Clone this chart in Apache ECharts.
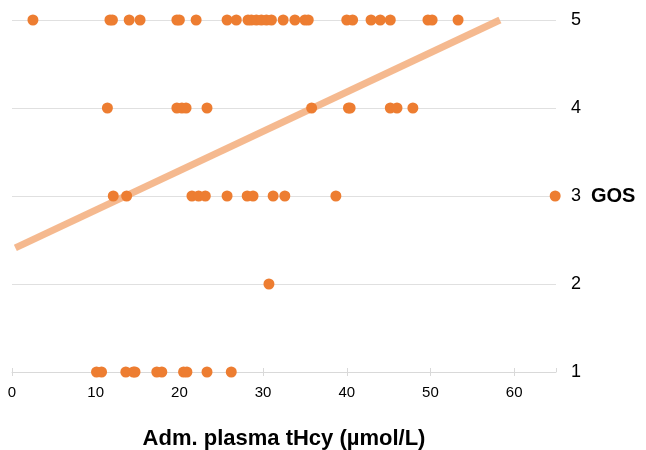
<!DOCTYPE html>
<html>
<head>
<meta charset="utf-8">
<script src="https://cdn.jsdelivr.net/npm/echarts@6/dist/echarts.min.js"></script>
<style>
  html, body { margin: 0; padding: 0; background: #fff; }
  #chart { width: 646px; height: 450px; }
</style>
</head>
<body>
<div id="chart"></div>
<script>
// tHcy values (µmol/L) for each GOS score
const gos5 = [2.5, 11.7, 12.0, 14.0, 15.3, 19.7, 20.0, 22.0, 25.7, 26.8, 28.2, 28.6, 29.2, 29.8, 30.4, 31.0, 32.4, 33.8, 35.0, 35.4, 40.0, 40.7, 42.9, 44.0, 45.2, 49.7, 50.2, 53.3];
const gos4 = [11.4, 19.7, 20.3, 20.8, 23.3, 35.8, 40.2, 40.4, 45.2, 46.0, 47.9];
const gos3 = [12.1, 13.7, 21.5, 22.3, 23.1, 25.7, 28.1, 28.8, 31.2, 32.6, 38.7, 64.9];
const gos2 = [30.7];
const gos1 = [10.1, 10.7, 13.6, 14.5, 14.7, 17.3, 17.9, 20.5, 20.9, 23.3, 26.2];

// trend line end points [tHcy, GOS]
const trendLine = [[0.4, 2.41], [58.3, 5.0]];

const groups = [[1, gos1], [2, gos2], [3, gos3], [4, gos4], [5, gos5]];
const points = [];
groups.forEach(([score, vals]) => {
  vals.forEach(v => points.push([v, score]));
});

const chart = echarts.init(document.getElementById('chart'));
chart.setOption({
  animation: false,
  textStyle: {fontFamily: 'Liberation Sans'},
  grid: {left: 12, right: 90, top: 20, bottom: 78, containLabel: false, outerBoundsMode: 'none'},
  xAxis: [
    {
      type: 'value',
      min: 0,
      max: 65,
      interval: 10,
      name: 'Adm. plasma tHcy (µmol/L)',
      nameLocation: 'middle',
      nameGap: 56,
      nameTextStyle: {fontSize: 22, fontWeight: 'bold', color: '#000'},
      axisLine: {show: true, lineStyle: {color: '#d9d9d9'}},
      axisTick: {show: true, length: 4, lineStyle: {color: '#d9d9d9'}},
      axisLabel: {fontSize: 15, color: '#000', margin: 13, showMaxLabel: false},
      splitLine: {show: false}
    },
    {
      // inner half of the crossing tick marks
      type: 'value',
      position: 'bottom',
      min: 0,
      max: 65,
      interval: 10,
      axisLine: {show: false},
      axisTick: {show: true, inside: true, length: 4, lineStyle: {color: '#d9d9d9'}},
      axisLabel: {show: false},
      splitLine: {show: false}
    }
  ],
  yAxis: {
    type: 'value',
    position: 'right',
    min: 1,
    max: 5,
    interval: 1,
    name: 'GOS',
    nameLocation: 'middle',
    nameRotate: 0,
    nameGap: 35,
    nameTextStyle: {fontSize: 20, fontWeight: 'bold', color: '#000', align: 'left'},
    axisLine: {show: false},
    axisTick: {show: false},
    axisLabel: {fontSize: 18, color: '#000', margin: 15},
    splitLine: {lineStyle: {color: '#e0e0e0'}}
  },
  series: [
    {
      type: 'line',
      data: trendLine,
      symbol: 'none',
      z: 1,
      lineStyle: {color: '#f4b183', width: 7, opacity: 0.9}
    },
    {
      type: 'scatter',
      data: points,
      symbolSize: 11,
      z: 2,
      itemStyle: {color: '#ed7d31', opacity: 1}
    }
  ]
});
</script>
</body>
</html>
